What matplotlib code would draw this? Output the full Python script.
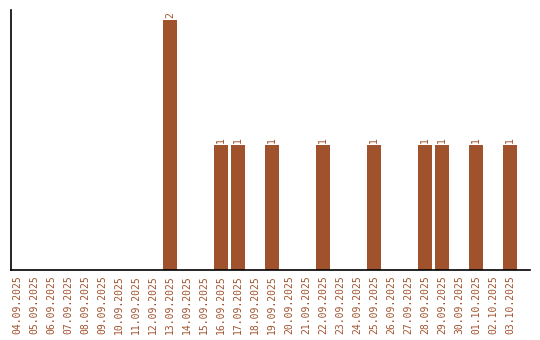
import matplotlib
matplotlib.use("Agg")
import matplotlib.pyplot as plt
import numpy as np
from datetime import date, timedelta

dates = [(date(2025, 9, 4) + timedelta(days=i)).strftime("%d.%m.%Y") for i in range(30)]
counts = {"13.09.2025": 2, "16.09.2025": 1, "17.09.2025": 1, "19.09.2025": 1,
          "22.09.2025": 1, "25.09.2025": 1, "28.09.2025": 1, "29.09.2025": 1,
          "01.10.2025": 1, "03.10.2025": 1}
values = [counts.get(d, 0) for d in dates]

color = "#A0522D"
fig = plt.figure(figsize=(5.4, 3.4), dpi=100)
ax = fig.add_axes([11/540, 70/340, 519/540, 260/340])
x = np.arange(len(dates))
ax.bar(x, values, width=0.82, color=color)
for xi, v in zip(x, values):
    if v > 0:
        ax.text(xi, v + 0.02, str(v), rotation=90, ha="center", va="bottom",
                fontsize=7, color=color, family="DejaVu Sans Mono")
ax.set_xlim(-0.35, 30.18)
ax.set_ylim(0, 2.08)
ax.set_xticks(x)
ax.set_xticklabels(dates, rotation=90, fontsize=7, color=color, family="DejaVu Sans Mono")
ax.tick_params(axis="x", length=0, pad=4)
ax.set_yticks([])
for s in ["top", "right"]:
    ax.spines[s].set_visible(False)
ax.spines["left"].set_linewidth(1.2)
ax.spines["bottom"].set_linewidth(1.2)
fig.savefig("out.png", dpi=100)
